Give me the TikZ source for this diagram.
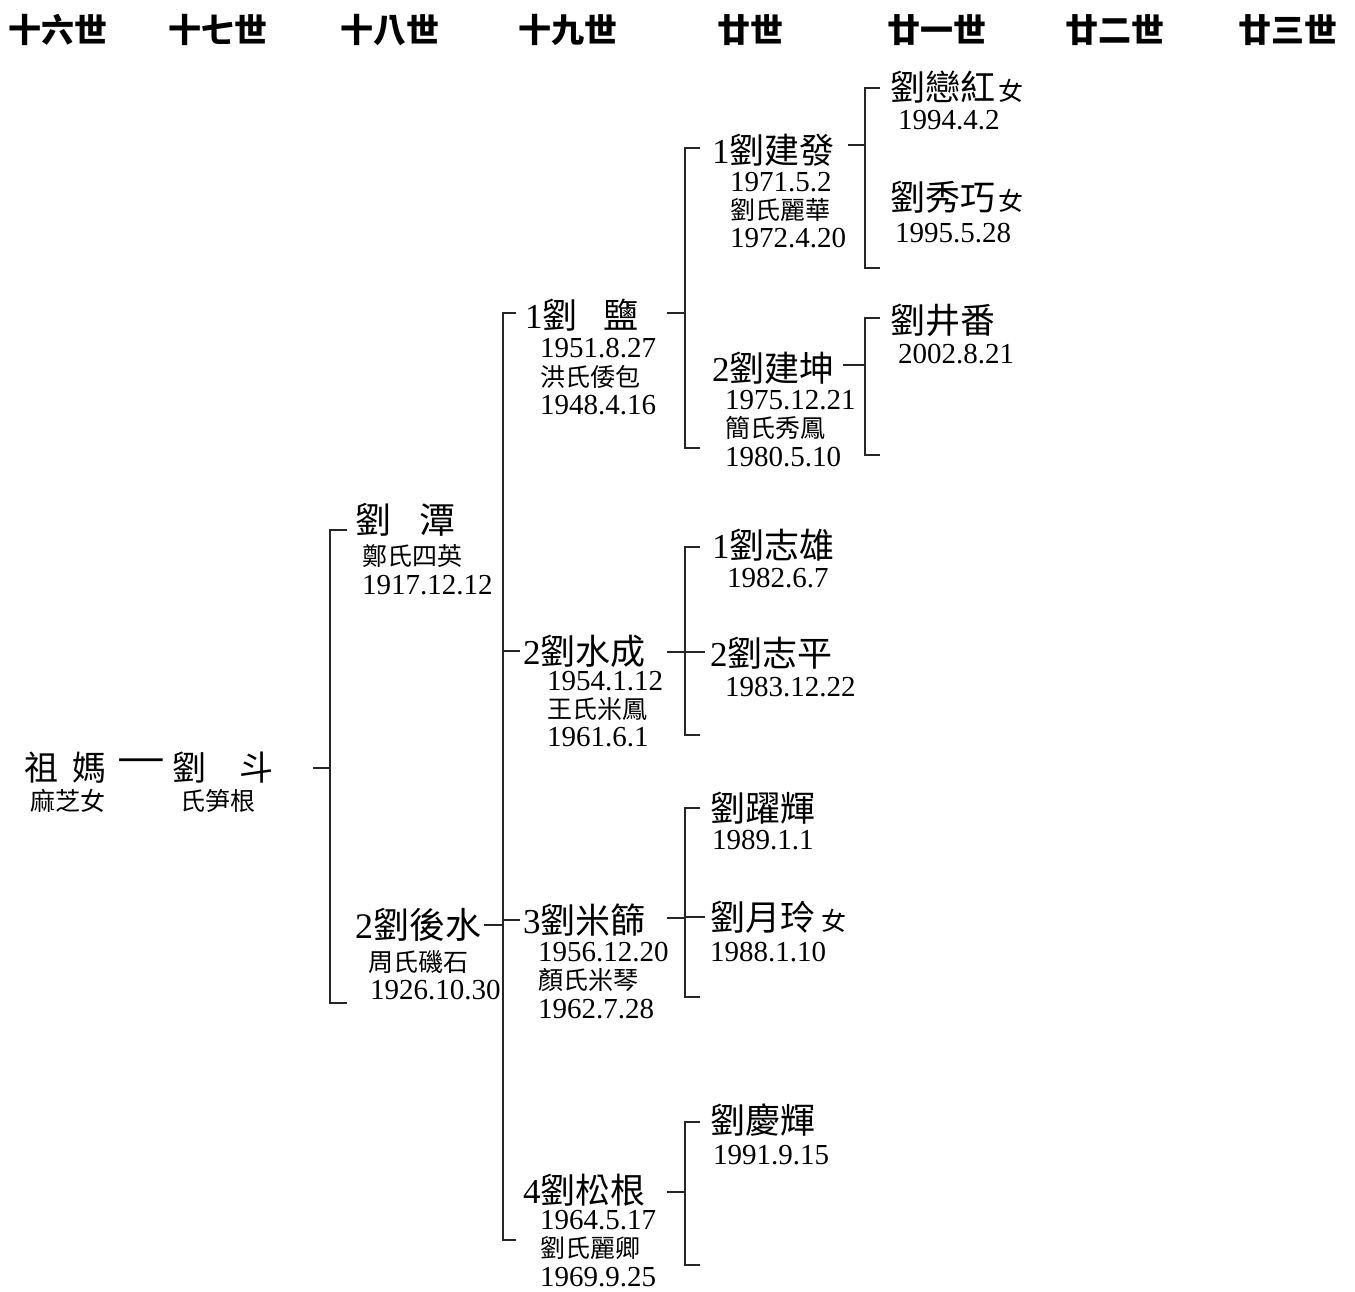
\documentclass[tikz,border=0pt]{standalone}
\usepackage{fontspec}
\setmainfont{Noto Sans CJK TC}
\newfontfamily\dig{Liberation Serif}
\usetikzlibrary{calc}
\begin{document}
\begin{tikzpicture}[x=1pt,y=-1pt,
  hdr/.style={font=\bfseries\fontsize{33}{33}\selectfont, inner sep=0},
  nm/.style={font=\fontsize{35}{35}\selectfont, anchor=west, inner sep=0},
  sub/.style={font=\fontsize{25}{25}\selectfont, anchor=west, inner sep=0},
  dt/.style={font=\dig\fontsize{29}{29}\selectfont, anchor=west, inner sep=0},
  ln/.style={line width=1.8pt, color=black!85}]
\useasboundingbox[fill=white] (0,0) rectangle (1355,1291);
% headers
\node[hdr] (h16) at (58,30) {十六世};
\node[hdr] (h17) at (218,30) {十七世};
\node[hdr] (h18) at (390,30) {十八世};
\node[hdr] (h19) at (568,30) {十九世};
\node[hdr] (h20) at (750,30) {廿世};
\node[hdr] (h21) at (937,30) {廿一世};
\node[hdr] (h22) at (1115,30) {廿二世};
\node[hdr] (h23) at (1288,30) {廿三世};
% root
\node[nm,font=\fontsize{34}{34}\selectfont] (zuma) at (24,768) {祖\hspace{14pt}媽};
\node[font=\fontsize{34}{34}\selectfont, inner sep=0, xscale=1.4] (yi) at (141,766) {一};
\node[nm,font=\fontsize{34}{34}\selectfont] (liudou) at (172,768) {劉\hspace{33pt}斗};
\node[sub] (mazhi) at (30,801) {麻芝女};
\node[sub] (shisun) at (180,801) {氏笋根};
% gen 18
\node[nm,font=\fontsize{36}{36}\selectfont] (tan) at (355,520) {劉\hspace{28pt}潭};
\node[sub] (tan1) at (362,556) {鄭氏四英};
\node[dt] (tan2) at (362,585) {1917.12.12};
\node[nm,font=\fontsize{36}{36}\selectfont] (housui) at (355,925) {{\dig 2}劉後水};
\node[sub] (housui1) at (368,962) {周氏磯石};
\node[dt] (housui2) at (370,990) {1926.10.30};
% gen 19
\node[nm] (yan) at (525,315) {{\dig 1}劉\hspace{26pt}鹽};
\node[dt] (yan1) at (540,348) {1951.8.27};
\node[sub] (yan2) at (540,377) {洪氏倭包};
\node[dt] (yan3) at (540,405) {1948.4.16};
\node[nm] (shuicheng) at (523,651) {{\dig 2}劉水成};
\node[dt] (sc1) at (547,681) {1954.1.12};
\node[sub] (sc2) at (547,709) {王氏米鳳};
\node[dt] (sc3) at (547,737) {1961.6.1};
\node[nm] (mishai) at (523,920) {{\dig 3}劉米篩};
\node[dt] (ms1) at (538,952) {1956.12.20};
\node[sub] (ms2) at (538,980) {顏氏米琴};
\node[dt] (ms3) at (538,1009) {1962.7.28};
\node[nm] (songgen) at (523,1190) {{\dig 4}劉松根};
\node[dt] (sg1) at (540,1220) {1964.5.17};
\node[sub] (sg2) at (540,1248) {劉氏麗卿};
\node[dt] (sg3) at (540,1277) {1969.9.25};
% gen 20
\node[nm] (jianfa) at (712,150) {{\dig 1}劉建發};
\node[dt] (jf1) at (730,182) {1971.5.2};
\node[sub] (jf2) at (730,210) {劉氏麗華};
\node[dt] (jf3) at (730,238) {1972.4.20};
\node[nm] (jiankun) at (712,368) {{\dig 2}劉建坤};
\node[dt] (jk1) at (725,400) {1975.12.21};
\node[sub] (jk2) at (725,428) {簡氏秀鳳};
\node[dt] (jk3) at (725,457) {1980.5.10};
\node[nm] (zhixiong) at (712,545) {{\dig 1}劉志雄};
\node[dt] (zx1) at (727,578) {1982.6.7};
\node[nm] (zhiping) at (710,653) {{\dig 2}劉志平};
\node[dt] (zp1) at (725,687) {1983.12.22};
\node[nm] (yuehui) at (710,808) {劉躍輝};
\node[dt] (yh1) at (712,840) {1989.1.1};
\node[nm] (yueling) at (710,917) {劉月玲\hspace{6pt}{\fontsize{25}{25}\selectfont 女}};
\node[dt] (yl1) at (710,952) {1988.1.10};
\node[nm] (qinghui) at (710,1120) {劉慶輝};
\node[dt] (qh1) at (713,1155) {1991.9.15};
% gen 21
\node[nm] (lianhong) at (890,87) {劉戀紅\hspace{3pt}{\fontsize{25}{25}\selectfont 女}};
\node[dt] (lh1) at (898,120) {1994.4.2};
\node[nm] (xiuqiao) at (890,197) {劉秀巧\hspace{3pt}{\fontsize{25}{25}\selectfont 女}};
\node[dt] (xq1) at (895,233) {1995.5.28};
\node[nm] (jingfan) at (890,320) {劉井番};
\node[dt] (jf21) at (898,354) {2002.8.21};
% bracket coordinates
\coordinate (b18t) at (330,530);
\coordinate (b18b) at (330,1003);
\coordinate (b19t) at (503,313);
\coordinate (b19b) at (503,1240);
\coordinate (b20at) at (685,148);
\coordinate (b20ab) at (685,448);
\coordinate (b20bt) at (685,547);
\coordinate (b20bb) at (685,735);
\coordinate (b20ct) at (685,808);
\coordinate (b20cb) at (685,997);
\coordinate (b20dt) at (685,1122);
\coordinate (b20db) at (685,1265);
\coordinate (b21at) at (865,88);
\coordinate (b21ab) at (865,268);
\coordinate (b21bt) at (865,318);
\coordinate (b21bb) at (865,455);
% connectors
\draw[ln] ($(b18t |- liudou)+(-17,0)$) -- (b18t |- liudou);
\draw[ln] ($(b18t)+(17,0)$) -- (b18t) -- (b18b) -- ++(17,0);
\draw[ln] ($(housui.east)+(3,0)$) -- (b19t |- housui.east);
\draw[ln] ($(b19t)+(13,0)$) -- (b19t) -- (b19b) -- ++(13,0);
\draw[ln] (b19t |- shuicheng) -- ++(17,0);
\draw[ln] (b19t |- mishai) -- ++(17,0);
% gen 19 -> 20
\draw[ln] (667,313) -- (b20at |- 0,313);
\draw[ln] ($(b20at)+(15,0)$) -- (b20at) -- (b20ab) -- ++(15,0);
\draw[ln] (667,652) -- (b20bt |- 0,652);
\draw[ln] ($(b20bt)+(15,0)$) -- (b20bt) -- (b20bb) -- ++(15,0);
\draw[ln] (b20bt |- 0,652) -- ++(20,0);
\draw[ln] (667,918) -- (b20ct |- 0,918);
\draw[ln] ($(b20ct)+(15,0)$) -- (b20ct) -- (b20cb) -- ++(15,0);
\draw[ln] (b20ct |- 0,917) -- ++(20,0);
\draw[ln] (667,1192) -- (b20dt |- 0,1192);
\draw[ln] ($(b20dt)+(15,0)$) -- (b20dt) -- (b20db) -- ++(15,0);
% gen 20 -> 21
\draw[ln] (848,145) -- (b21at |- 0,145);
\draw[ln] ($(b21at)+(15,0)$) -- (b21at) -- (b21ab) -- ++(15,0);
\draw[ln] (843,365) -- (b21bt |- 0,365);
\draw[ln] ($(b21bt)+(15,0)$) -- (b21bt) -- (b21bb) -- ++(15,0);
\end{tikzpicture}
\end{document}
